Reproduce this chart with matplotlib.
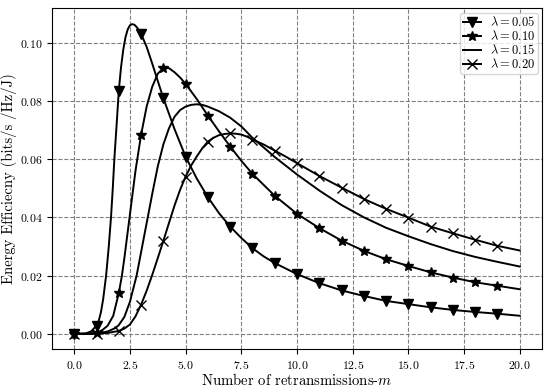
""" energy efficiency vs number of retransmissions for different lambda """

import matplotlib

matplotlib.use("Agg")
import matplotlib.pyplot as plt
import numpy as np

plt.rcParams["font.family"] = "serif"
plt.rcParams["font.serif"] = ["cmr10", "DejaVu Serif"]
plt.rcParams["mathtext.fontset"] = "cm"
plt.rcParams["axes.formatter.use_mathtext"] = True

# values
m_005 = [0, 0.5, 0.75, 1, 1.1, 1.2, 1.3, 1.43, 1.55, 1.65, 1.73, 1.8, 1.9, 2, 2.1, 2.2, 2.3,
         2.4, 2.5, 2.6, 2.7, 2.8, 2.9, 3, 3.25, 3.5, 3.75, 4, 4.5, 5, 5.5, 6, 6.5, 7, 7.5,
         8, 8.5, 9, 10, 11, 12, 13, 14, 15, 16, 17, 18, 19, 20]
ee_005 = [0.0, 0.0001, 0.0008, 0.0028, 0.0045, 0.0075, 0.012, 0.020, 0.030, 0.040, 0.050,
          0.060, 0.0715, 0.0835, 0.0915, 0.0975, 0.1018, 0.1045, 0.1059, 0.1063, 0.1061,
          0.1053, 0.1043, 0.1030, 0.0985, 0.0928, 0.0868, 0.0809, 0.0703, 0.0608, 0.0533,
          0.0469, 0.0414, 0.0368, 0.0329, 0.0294, 0.0266, 0.0243, 0.0205, 0.0174, 0.0149,
          0.0130, 0.0113, 0.0102, 0.0091, 0.0082, 0.0075, 0.0069, 0.0062]

m_010 = [0, 0.5, 1, 1.25, 1.5, 1.75, 2, 2.14, 2.25, 2.5, 2.75, 3, 3.25, 3.5, 3.75, 4, 4.25,
         4.5, 4.75, 5, 5.5, 6, 6.5, 7, 7.5, 8, 9, 10, 11, 12, 13, 14, 15, 16, 17, 18, 19, 20]
ee_010 = [0.0, 0.0, 0.0003, 0.0012, 0.0028, 0.0062, 0.0140, 0.0200, 0.0260, 0.0410, 0.0560,
          0.0683, 0.0780, 0.0848, 0.0893, 0.0912, 0.0912, 0.0898, 0.0880, 0.0858, 0.0806,
          0.0749, 0.0695, 0.0643, 0.0594, 0.0549, 0.0474, 0.0412, 0.0363, 0.0320, 0.0285,
          0.0256, 0.0233, 0.0211, 0.0193, 0.0177, 0.0165, 0.0153]

m_015 = [0, 0.5, 1, 1.5, 1.85, 2, 2.25, 2.5, 2.8, 3, 3.25, 3.5, 3.75, 4, 4.25, 4.5, 4.75, 5,
         5.25, 5.5, 5.75, 6, 6.5, 7, 7.5, 8, 8.5, 9, 10, 11, 12, 13, 14, 15, 16, 17, 18, 19, 20]
ee_015 = [0.0, 0.0, 0.0001, 0.0008, 0.0020, 0.0030, 0.0058, 0.0110, 0.0200, 0.0280, 0.0380,
          0.0480, 0.0575, 0.0650, 0.0705, 0.0745, 0.0768, 0.0780, 0.0786, 0.0788, 0.0786,
          0.0780, 0.0764, 0.0742, 0.0712, 0.0673, 0.0640, 0.0607, 0.0547, 0.0492, 0.0442,
          0.0400, 0.0364, 0.0335, 0.0308, 0.0284, 0.0264, 0.0247, 0.0231]

m_020 = [0, 0.5, 1, 1.5, 2, 2.25, 2.5, 2.75, 3, 3.25, 3.5, 3.75, 4, 4.25, 4.5, 4.75, 5, 5.25,
         5.5, 5.75, 6, 6.25, 6.5, 6.75, 7, 7.25, 7.5, 7.75, 8, 8.5, 9, 9.5, 10, 11, 12, 13,
         14, 15, 16, 17, 18, 19, 20]
ee_020 = [0.0, 0.0, 0.0, 0.0003, 0.0010, 0.0018, 0.0032, 0.0060, 0.0100, 0.0148, 0.0202,
          0.0260, 0.0319, 0.0380, 0.0440, 0.0494, 0.0540, 0.0578, 0.0609, 0.0637, 0.0660,
          0.0673, 0.0682, 0.0686, 0.0688, 0.0687, 0.0684, 0.0677, 0.0667, 0.0650, 0.0629,
          0.0608, 0.0586, 0.0542, 0.0502, 0.0463, 0.0429, 0.0399, 0.0368, 0.0345, 0.0323,
          0.0302, 0.0286]

labels = [r"$\lambda = 0.05$", r"$\lambda = 0.10$", r"$\lambda = 0.15$", r"$\lambda = 0.20$"]
markers = ["v", "*", None, "x"]
msizes = [7.5, 7, 0, 7]


def marks(m):
    """markers only on integer m below 20"""
    m = np.asarray(m)
    return list((m == np.round(m)) & (m < 20))


fig = plt.figure(figsize=(5.5, 3.87), dpi=100)
ax = fig.add_axes([0.0945, 0.0975, 0.891, 0.8815])

series = [(m_005, ee_005), (m_010, ee_010), (m_015, ee_015), (m_020, ee_020)]
for (m, ee), lab, mk, ms in zip(series, labels, markers, msizes):
    if mk is None:
        ax.plot(m, ee, color="black", lw=1.4, label=lab)
    else:
        ax.plot(m, ee, color="black", lw=1.4, marker=mk, markersize=ms,
                markevery=marks(m), label=lab)

ax.set_xlim(-1, 21)
ax.set_ylim(-0.0053, 0.1118)
ax.grid(True, linestyle="--", color="gray", lw=0.8)
ax.tick_params(labelsize=8.5)
ax.set_xlabel(r"Number of retransmissions-$m$", fontsize=10.6, labelpad=1)
ax.set_ylabel("Energy Efficiecny (bits/s /Hz/J)", fontsize=10.6, labelpad=2)

ax.legend(loc="upper right", fontsize=9, labelspacing=0.0, handlelength=1.5,
          handletextpad=0.7, borderpad=0.2, borderaxespad=0.35)

plt.savefig("out.png", dpi=100)
